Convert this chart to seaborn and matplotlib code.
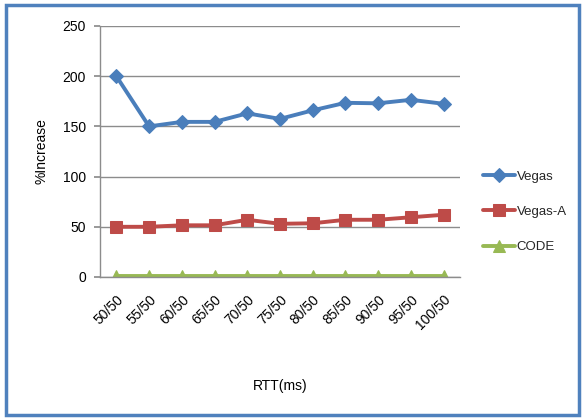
import matplotlib
matplotlib.use("Agg")
import matplotlib.pyplot as plt
from matplotlib.patches import Rectangle
import seaborn as sns
import pandas as pd

rtt_labels = ["50/50", "55/50", "60/50", "65/50", "70/50", "75/50",
              "80/50", "85/50", "90/50", "95/50", "100/50"]
vegas = [200, 150, 154.5, 154.5, 163, 157.5, 166, 173.5, 173, 176.5, 172.5]
vegas_a = [50, 50, 51.5, 51.5, 57, 53, 53.5, 57, 57, 59.5, 62]
code = [1, 1, 1, 1, 1, 1, 1, 1, 1, 1, 1]

series_names = ["Vegas", "Vegas-A", "CODE"]
colors = {"Vegas": "#4A7EBB", "Vegas-A": "#BE4B48", "CODE": "#98B954"}
markers = {"Vegas": "D", "Vegas-A": "s", "CODE": "^"}
marker_sizes = {"Vegas": 7.5, "Vegas-A": 9, "CODE": 8.5}

df = pd.DataFrame({"RTT": rtt_labels * 3,
                   "value": vegas + vegas_a + code,
                   "series": sum([[n] * len(rtt_labels) for n in series_names], [])})

sns.set_theme(style="white")
plt.rcParams["font.family"] = ["Liberation Sans", "DejaVu Sans"]

fig = plt.figure(figsize=(5.85, 4.19), dpi=100)
ax = fig.add_axes([100 / 585, 1 - 277 / 419, 360 / 585, 251 / 419])

for name in series_names:
    sub = df[df["series"] == name]
    sns.lineplot(data=sub, x="RTT", y="value", ax=ax, color=colors[name],
                 marker=markers[name], markersize=marker_sizes[name],
                 markeredgecolor=colors[name], linewidth=2.8, label=name,
                 sort=False)

ax.set_xlim(-0.5, len(rtt_labels) - 0.5)
ax.set_ylim(0, 250)
ax.set_yticks([0, 50, 100, 150, 200, 250])
ax.yaxis.grid(True, color="#8C8C8C", linewidth=1)
ax.xaxis.grid(False)
ax.set_axisbelow(True)
for s in ["top", "right"]:
    ax.spines[s].set_visible(False)
for s in ["left", "bottom"]:
    ax.spines[s].set_color("#8C8C8C")
    ax.spines[s].set_linewidth(1)
ax.tick_params(axis="y", left=True, length=4, color="#8C8C8C", labelsize=10, pad=6,
               labelcolor="#000000")
ax.tick_params(axis="x", bottom=False, labelsize=10, pad=5, labelcolor="#000000")
plt.setp(ax.get_xticklabels(), rotation=45, ha="right", rotation_mode="anchor")

ax.set_xlabel("RTT(ms)", fontsize=10, labelpad=34, color="#000000")
ax.set_ylabel("%Increase", fontsize=10, labelpad=10, color="#000000")

leg = ax.legend(loc="center left", bbox_to_anchor=(1.064, 0.259), frameon=False,
                fontsize=9.5, handlelength=2.4, labelspacing=1.75,
                handletextpad=0.15, borderaxespad=0, borderpad=0)

fig.patches.append(Rectangle((6 / 585, 4 / 419), 573 / 585, 410 / 419,
                             transform=fig.transFigure, fill=False,
                             edgecolor="#4F81BD", linewidth=2.5))

fig.savefig("out.png", dpi=100, facecolor="white")
